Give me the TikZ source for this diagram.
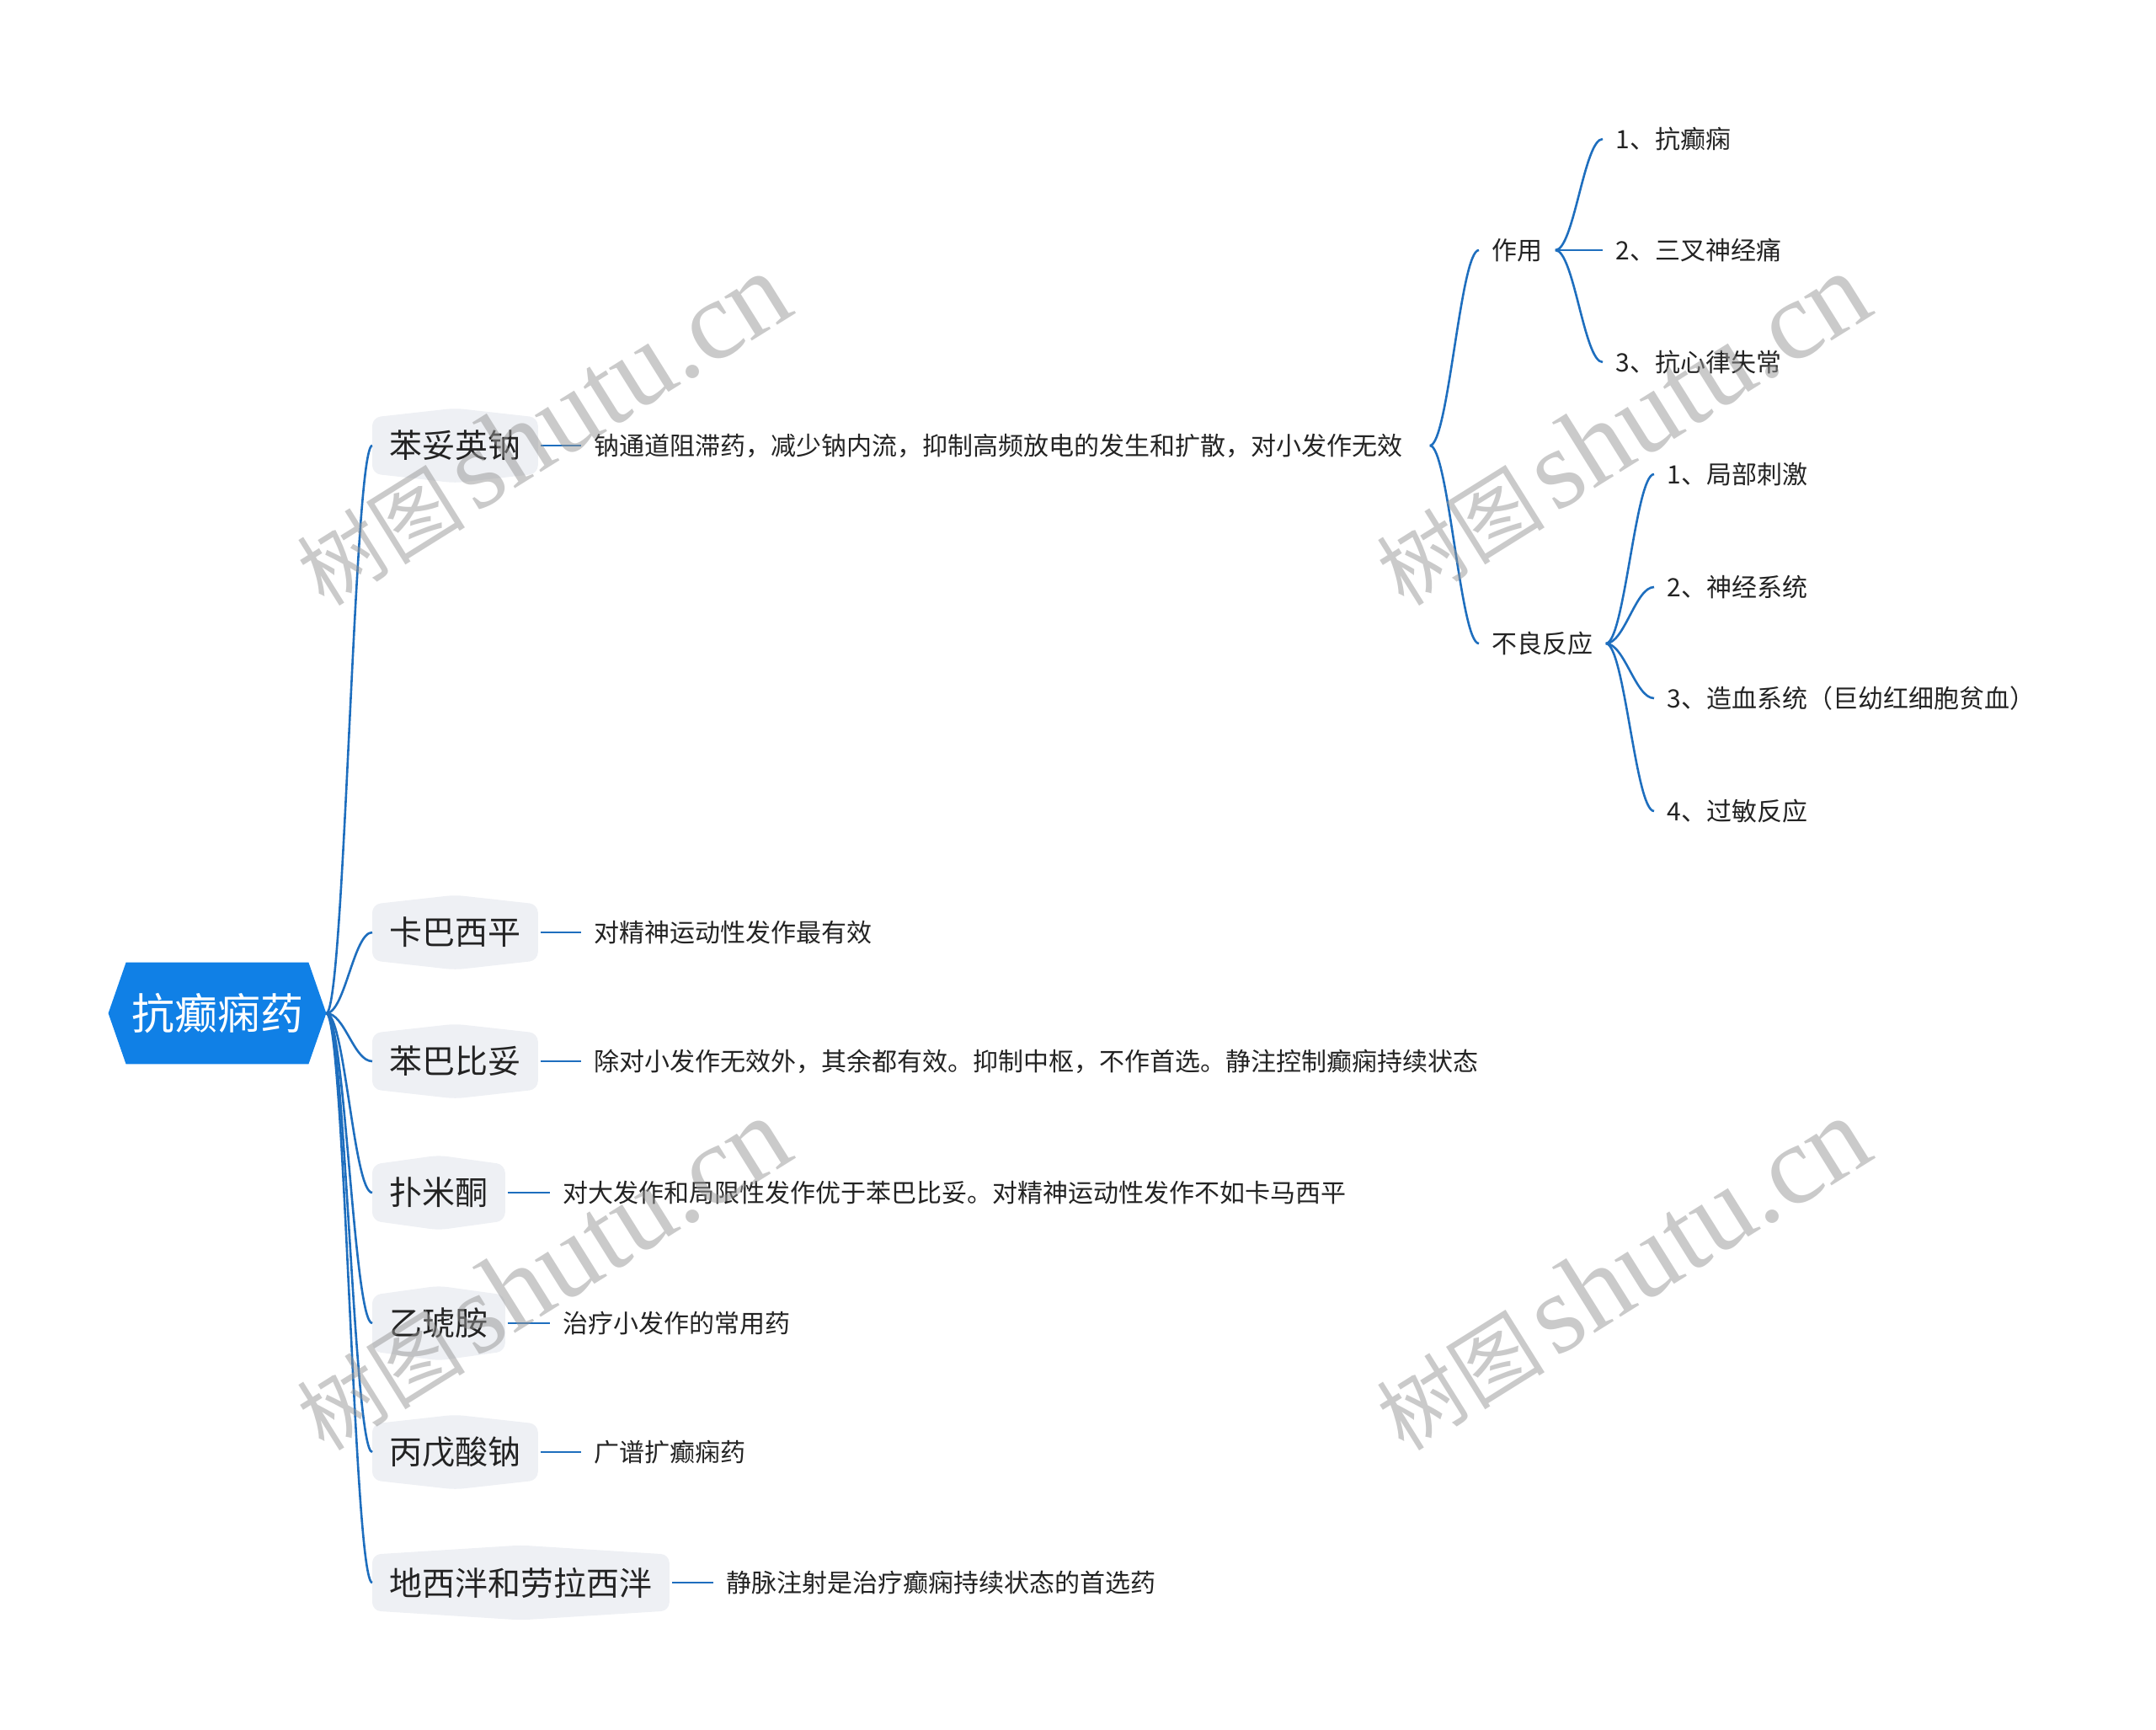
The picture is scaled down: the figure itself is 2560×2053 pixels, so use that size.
\documentclass[tikz,border=0pt]{standalone}
\usepackage{fontspec}
\newfontfamily\cjk{Noto Sans CJK SC}
\newfontfamily\wmser{Liberation Serif}
\usetikzlibrary{backgrounds}
\definecolor{rootblue}{RGB}{16,128,230}
\definecolor{linkblue}{RGB}{30,110,190}
\definecolor{boxfill}{RGB}{238,240,244}
\definecolor{txt}{RGB}{35,35,35}
\definecolor{wmgray}{RGB}{150,150,150}
\tikzset{
  conn/.style={draw=linkblue, line width=1.3pt},
  topic/.style={font=\cjk\fontsize{19.5}{20}\selectfont, text=txt, inner xsep=10pt, inner ysep=0pt, minimum height=33pt, anchor=west},
  leaf/.style={font=\cjk\fontsize{15}{16}\selectfont, text=txt, inner xsep=7.5pt, inner ysep=2pt, anchor=west},
  wmark/.style={rotate=32, text=wmgray, opacity=0.5},
  curvy/.style={to path={.. controls +(22,0) and +(-22,0) .. (\tikztotarget)}}
}
\newcommand\topicbox[1]{\fill[boxfill, rounded corners=5pt] (#1.north west) -- ([yshift=5.5pt]#1.north) -- (#1.north east) -- (#1.south east) -- ([yshift=-5.5pt]#1.south) -- (#1.south west) -- cycle;}
\begin{document}
\begin{tikzpicture}[x=0.5pt,y=-0.5pt]
\useasboundingbox (0,0) rectangle (2560,2053);
% root
\node[font=\cjk\fontsize{25.5}{26}\selectfont, text=white, minimum width=129pt, minimum height=60pt, inner sep=0pt] (root) at (258,1203) {抗癫痫药};
% level 1
\node[topic] (b1) at (442,529) {苯妥英钠};
\node[topic] (b2) at (442,1107) {卡巴西平};
\node[topic] (b3) at (442,1260) {苯巴比妥};
\node[topic] (b4) at (442,1416) {扑米酮};
\node[topic] (b5) at (442,1571) {乙琥胺};
\node[topic] (b6) at (442,1724) {丙戊酸钠};
\node[topic] (b7) at (442,1879) {地西泮和劳拉西泮};
% descriptions
\node[leaf] (d1) at (690,529) {钠通道阻滞药，减少钠内流，抑制高频放电的发生和扩散，对小发作无效};
\node[leaf] (d2) at (690,1107) {对精神运动性发作最有效};
\node[leaf] (d3) at (690,1260) {除对小发作无效外，其余都有效。抑制中枢，不作首选。静注控制癫痫持续状态};
\node[leaf] (d4) at (653,1416) {对大发作和局限性发作优于苯巴比妥。对精神运动性发作不如卡马西平};
\node[leaf] (d5) at (653,1571) {治疗小发作的常用药};
\node[leaf] (d6) at (690,1724) {广谱扩癫痫药};
\node[leaf] (d7) at (847,1879) {静脉注射是治疗癫痫持续状态的首选药};
% subtree
\node[leaf] (zy) at (1756,297) {作用};
\node[leaf] (by) at (1756,764) {不良反应};
\node[leaf] (z1) at (1903,165) {1、抗癫痫};
\node[leaf] (z2) at (1903,297) {2、三叉神经痛};
\node[leaf] (z3) at (1903,430) {3、抗心律失常};
\node[leaf] (y1) at (1964,563) {1、局部刺激};
\node[leaf] (y2) at (1964,697) {2、神经系统};
\node[leaf] (y3) at (1964,829) {3、造血系统（巨幼红细胞贫血）};
\node[leaf] (y4) at (1964,963) {4、过敏反应};
\coordinate (j1) at ([xshift=8.5pt]d1.east);
% backgrounds
\begin{scope}[on background layer]
\fill[rootblue] (root.west) -- ([xshift=10.5pt]root.north west) -- ([xshift=-10.5pt]root.north east) -- (root.east) -- ([xshift=-10.5pt]root.south east) -- ([xshift=10.5pt]root.south west) -- cycle;
\foreach \b in {b1,b2,b3,b4,b5,b6,b7}{\topicbox{\b}}
\end{scope}
% connectors
\foreach \b in {b1,b2,b3,b4,b5,b6,b7}{\draw[conn, curvy] (root.east) to (\b.west);}
\foreach \i in {1,...,7}{\draw[conn, shorten <=1.5pt] (b\i.east) -- (d\i.west);}
\draw[conn, curvy] (j1) to (zy.west);
\draw[conn, curvy] (j1) to (by.west);
\foreach \c in {z1,z2,z3}{\draw[conn, curvy] (zy.east) to (\c.west);}
\foreach \c in {y1,y2,y3,y4}{\draw[conn, curvy] (by.east) to (\c.west);}
% watermarks
\foreach \p/\n in {{(644,510)}/w1, {(1926,510)}/w2, {(644,1513)}/w3, {(1926,1513)}/w4}{
  \node[wmark] (\n) at \p {{\cjk\fontsize{50}{50}\selectfont 树图}\hspace{6pt}{\wmser\fontsize{67}{67}\selectfont shutu.cn}};
}
\end{tikzpicture}
\end{document}
